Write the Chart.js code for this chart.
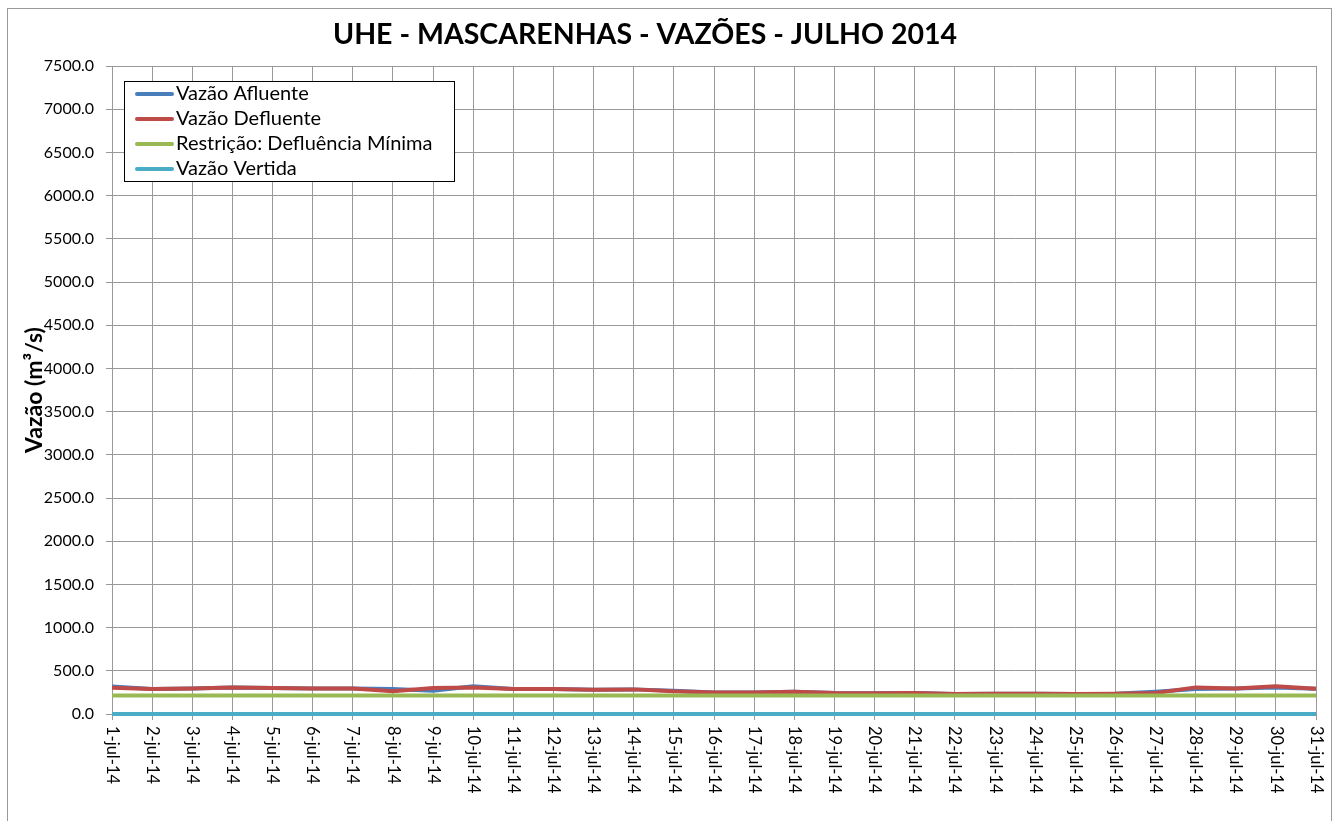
<!doctype html>
<html>
<head>
    <meta charset="utf-8">
    <title>UHE - Mascarenhas - Vazões</title>
    <script src="https://cdn.jsdelivr.net/npm/chart.js@4/dist/chart.umd.min.js"></script>
    <style>
    body { margin: 0; background: #fff; }
    canvas { display: block; }
    </style>
</head>
<body>
    <canvas id="canvas" width="1338" height="821"></canvas>
    <script>
        var dias = ["1-jul-14", "2-jul-14", "3-jul-14", "4-jul-14", "5-jul-14", "6-jul-14", "7-jul-14", "8-jul-14",
                    "9-jul-14", "10-jul-14", "11-jul-14", "12-jul-14", "13-jul-14", "14-jul-14", "15-jul-14", "16-jul-14",
                    "17-jul-14", "18-jul-14", "19-jul-14", "20-jul-14", "21-jul-14", "22-jul-14", "23-jul-14", "24-jul-14",
                    "25-jul-14", "26-jul-14", "27-jul-14", "28-jul-14", "29-jul-14", "30-jul-14", "31-jul-14"];
        var vazaoAfluente = [318, 289, 296, 308, 300, 296, 296, 289, 270, 320, 289, 289, 281, 285, 270, 250,
                             250, 258, 243, 239, 243, 231, 235, 235, 231, 235, 258, 289, 296, 308, 293];
        var vazaoDefluente = [305, 289, 296, 308, 300, 296, 296, 262, 300, 308, 289, 289, 281, 285, 262, 250,
                              250, 258, 243, 239, 243, 231, 235, 235, 231, 235, 243, 308, 296, 320, 293];
        var defluenciaMinima = [215, 215, 215, 215, 215, 215, 215, 215, 215, 215, 215, 215, 215, 215, 215, 215,
                                215, 215, 215, 215, 215, 215, 215, 215, 215, 215, 215, 215, 215, 215, 215];
        var vazaoVertida = [0, 0, 0, 0, 0, 0, 0, 0, 0, 0, 0, 0, 0, 0, 0, 0,
                            0, 0, 0, 0, 0, 0, 0, 0, 0, 0, 0, 0, 0, 0, 0];

        var gridColor = '#999999';

        function serie(label, data, cor, ordem) {
            return {
                label: label,
                data: data,
                borderColor: cor,
                backgroundColor: cor,
                borderWidth: 4,
                pointRadius: 0,
                tension: 0,
                fill: false,
                clip: false,
                order: ordem
            };
        }

        // frame, title, rotated x labels and the legend box
        var extras = {
            id: 'extras',
            beforeDraw: function(chart) {
                var ctx = chart.ctx;
                ctx.save();
                ctx.fillStyle = '#fff';
                ctx.fillRect(0, 0, chart.width, chart.height);
                ctx.strokeStyle = '#999';
                ctx.lineWidth = 1;
                ctx.strokeRect(7.5, 8.5, 1324, 830);
                ctx.fillStyle = '#000';
                ctx.font = 'bold 28.5px Lato';
                ctx.textAlign = 'center';
                ctx.textBaseline = 'middle';
                ctx.fillText('UHE - MASCARENHAS - VAZÕES - JULHO 2014', 645, 35);
                ctx.restore();
            },
            afterDraw: function(chart) {
                var ctx = chart.ctx;
                var xs = chart.scales.x;
                var area = chart.chartArea;
                ctx.save();
                ctx.fillStyle = '#000';
                ctx.font = '16.5px Lato';
                ctx.textAlign = 'left';
                ctx.textBaseline = 'middle';
                dias.forEach(function(d, i) {
                    ctx.save();
                    ctx.translate(xs.getPixelForTick(i), area.bottom + 12);
                    ctx.rotate(Math.PI / 2);
                    ctx.fillText(d, 0, 0);
                    ctx.restore();
                });

                // legend
                var bx = 124.5, by = 81.5, bw = 330, bh = 100;
                ctx.fillStyle = '#fff';
                ctx.fillRect(bx, by, bw, bh);
                ctx.strokeStyle = '#000';
                ctx.lineWidth = 1;
                ctx.strokeRect(bx, by, bw, bh);
                ctx.font = '20px Lato';
                chart.data.datasets.forEach(function(ds, i) {
                    var y = 94 + i * 25;
                    ctx.strokeStyle = ds.borderColor;
                    ctx.lineWidth = 4;
                    ctx.lineCap = 'round';
                    ctx.beginPath();
                    ctx.moveTo(137, y);
                    ctx.lineTo(172, y);
                    ctx.stroke();
                    ctx.fillStyle = '#000';
                    ctx.fillText(ds.label, 176, y);
                });
                ctx.restore();
            }
        };

        window.onload = function() {
            var ctx = document.getElementById('canvas').getContext('2d');
            window.myLine = new Chart(ctx, {
                type: 'line',
                data: {
                    labels: dias,
                    datasets: [
                        serie('Vazão Afluente', vazaoAfluente, '#4a7ebb', 4),
                        serie('Vazão Defluente', vazaoDefluente, '#be4b48', 3),
                        serie('Restrição: Defluência Mínima', defluenciaMinima, '#98b954', 2),
                        serie('Vazão Vertida', vazaoVertida, '#4bacc6', 1)
                    ]
                },
                options: {
                    responsive: false,
                    animation: false,
                    layout: { padding: { top: 66, right: 22, left: 0, bottom: 0 } },
                    plugins: {
                        legend: { display: false },
                        title: { display: false },
                        tooltip: { enabled: false }
                    },
                    scales: {
                        x: {
                            offset: false,
                            afterFit: function(scale) { scale.height = 107; },
                            grid: { color: gridColor, tickLength: 6, offset: false },
                            border: { color: gridColor },
                            ticks: { display: false }
                        },
                        y: {
                            min: 0,
                            max: 7500,
                            afterFit: function(scale) { scale.width = 112; },
                            grid: { color: gridColor, tickLength: 6 },
                            border: { color: gridColor },
                            ticks: {
                                stepSize: 500,
                                padding: 12,
                                color: '#000',
                                font: { family: 'Lato', size: 16 },
                                callback: function(v) { return v.toFixed(1); }
                            },
                            title: {
                                display: true,
                                text: 'Vazão (m³/s)',
                                color: '#000',
                                font: { family: 'Lato', size: 23, weight: 'bold' },
                                padding: { top: 21, bottom: 0 }
                            }
                        }
                    }
                },
                plugins: [extras]
            });
        };
    </script>
</body>
</html>
